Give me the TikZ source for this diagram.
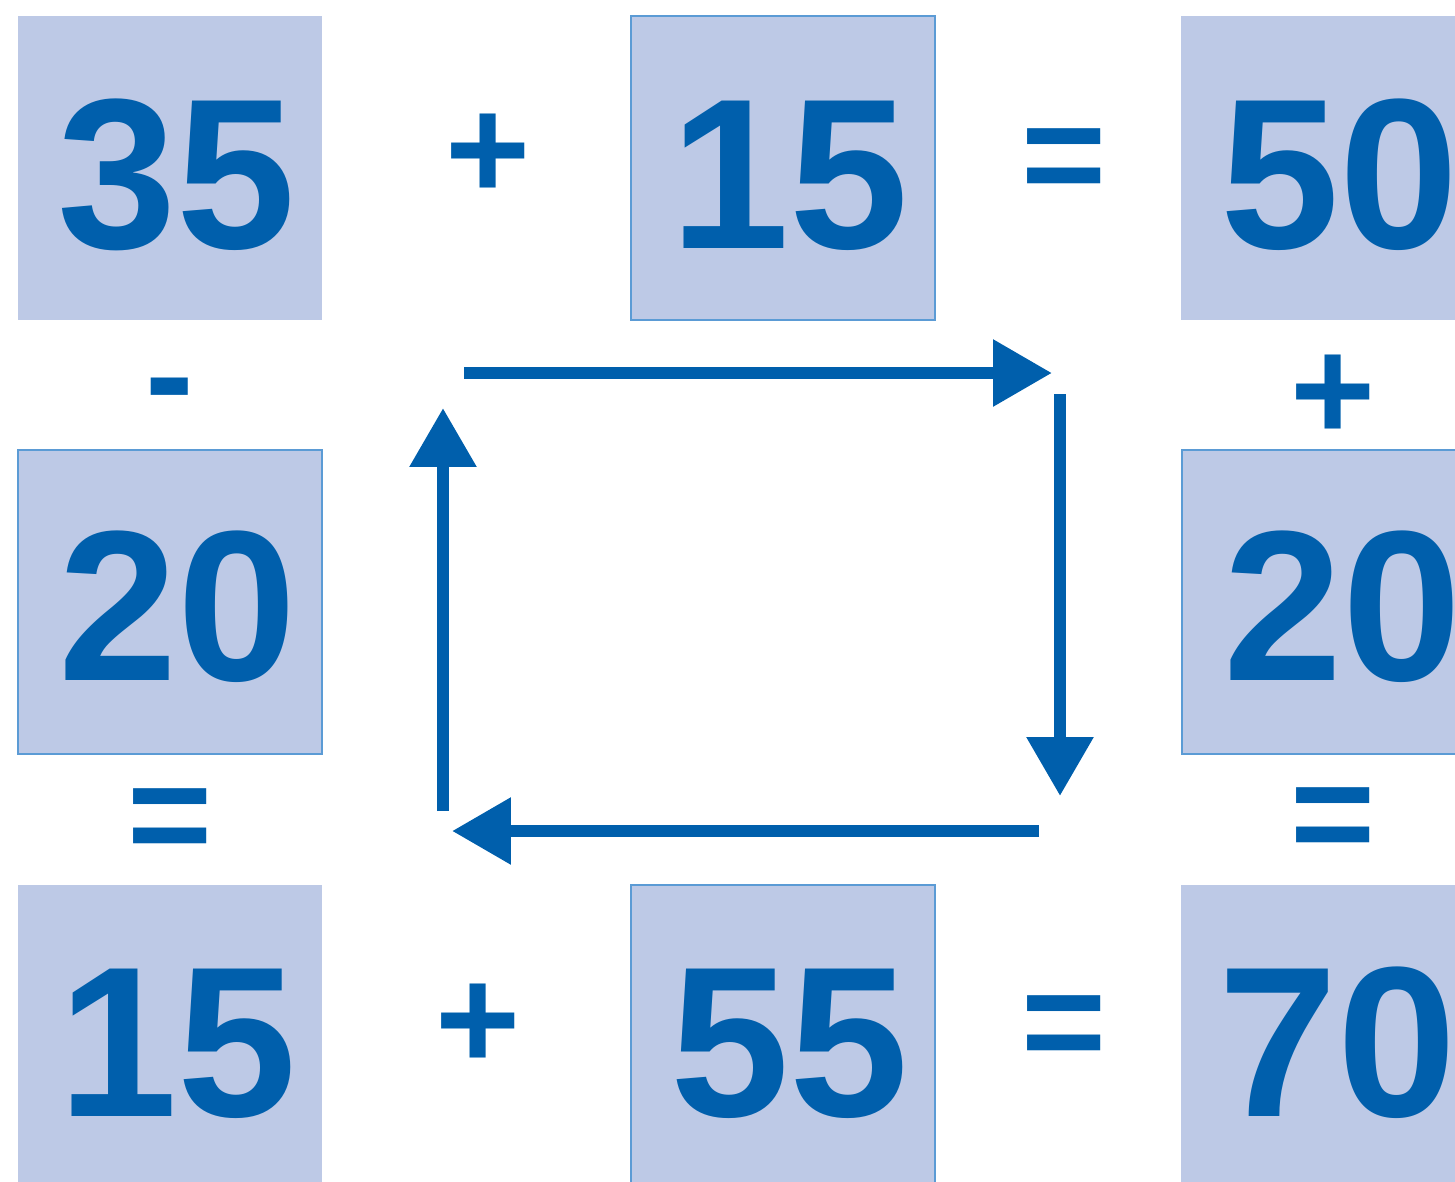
\documentclass[tikz,border=0pt]{standalone}
\usepackage{fontspec}
\setmainfont{Liberation Sans}
\usetikzlibrary{arrows.meta}
\definecolor{numblue}{RGB}{0,95,172}
\definecolor{boxfill}{RGB}{189,201,230}
\definecolor{boxline}{RGB}{91,155,213}
\tikzset{
  numbox/.style={rectangle, fill=boxfill, draw=none, inner sep=0pt, minimum width=6.08cm, minimum height=6.08cm},
  framed/.style={draw=boxline, line width=0.7pt},
  num/.style={text=numblue, anchor=base, inner sep=0pt, font=\fontsize{122}{122}\selectfont\bfseries},
  op/.style={text=numblue, anchor=center, inner sep=0pt, font=\fontsize{83}{83}\selectfont\bfseries},
  flow/.style={draw=numblue, line width=0.25cm, -{Triangle[length=1.18cm,width=1.28cm]}}
}
\begin{document}
\begin{tikzpicture}[x=0.02cm,y=-0.02cm]
\useasboundingbox (0,0) rectangle (1455,1181);
\clip (0,0) rectangle (1455,1181);
% boxes
\node[numbox] (b1) at (170,168) {};
\node[numbox,framed] (b2) at (783,168) {};
\node[numbox] (b3) at (1333,168) {};
\node[numbox,framed] (b4) at (170,602) {};
\node[numbox,framed] (b5) at (1334,602) {};
\node[numbox] (b6) at (170,1037) {};
\node[numbox,framed] (b7) at (783,1037) {};
\node[numbox] (b8) at (1333,1037) {};
% numbers
\node[num] (n1) at (177,248) {35};
\node[num] (n2) at (790,248) {15};
\node[num] (n3) at (1340,248) {50};
\node[num] (n4) at (178,680) {20};
\node[num] (n5) at (1343,680) {20};
\node[num] (n6) at (178,1116) {15};
\node[num] (n7) at (790,1116) {55};
\node[num] (n8) at (1338,1116) {70};
% operators
\node[op] (o1) at (488,157) {+};
\node[op] (o2) at (1064,167) {=};
\node[op] (o3) at (170,401) {-};
\node[op] (o4) at (1333,398) {+};
\node[op] (o5) at (170,827) {=};
\node[op] (o6) at (1333,826) {=};
\node[op] (o7) at (478,1027) {+};
\node[op] (o8) at (1064,1034) {=};
% arrows
\coordinate (a1s) at (464,373);
\coordinate (a1e) at (1052,373);
\coordinate (a2s) at (1060,394);
\coordinate (a2e) at (1060,796);
\coordinate (a3s) at (1039,831);
\coordinate (a3e) at (452,831);
\coordinate (a4s) at (443,811);
\coordinate (a4e) at (443,408);
\draw[flow] (a1s) -- (a1e);
\draw[flow] (a2s) -- (a2e);
\draw[flow] (a3s) -- (a3e);
\draw[flow] (a4s) -- (a4e);
\end{tikzpicture}
\end{document}
